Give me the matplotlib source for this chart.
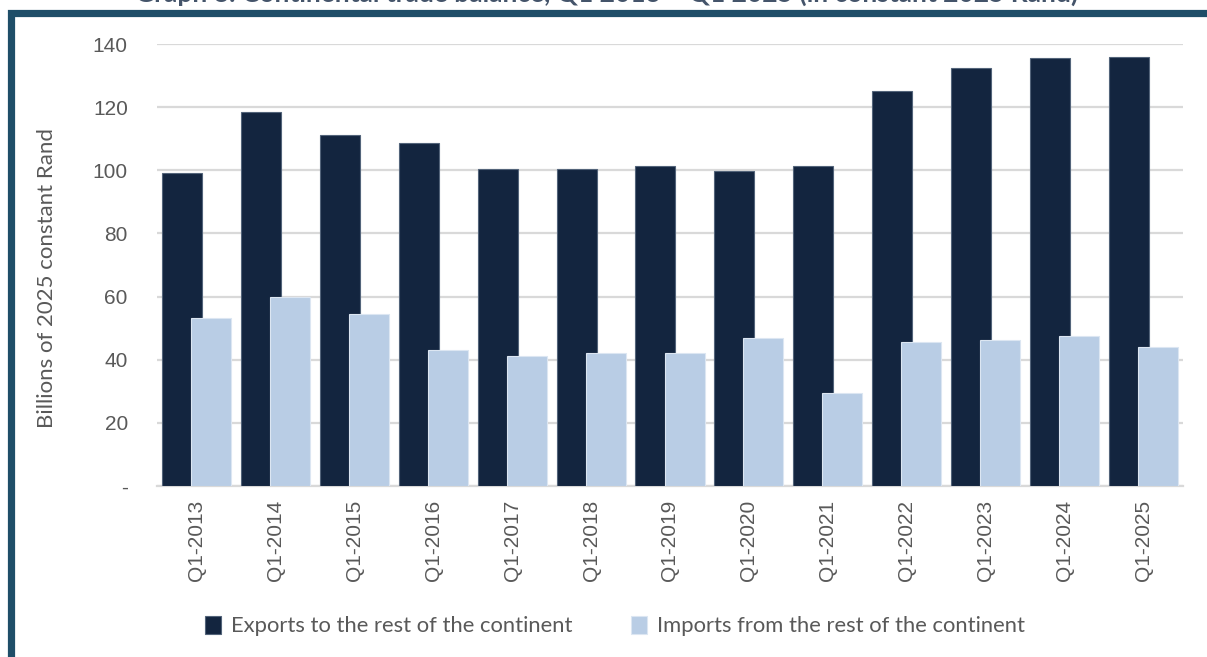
import numpy as np
import matplotlib
matplotlib.use("Agg")
import matplotlib.pyplot as plt
from matplotlib.patches import Rectangle

# data (billions of 2025 constant Rand)
quarters = ["Q1-2013", "Q1-2014", "Q1-2015", "Q1-2016", "Q1-2017", "Q1-2018", "Q1-2019",
            "Q1-2020", "Q1-2021", "Q1-2022", "Q1-2023", "Q1-2024", "Q1-2025"]
exports = [99.2, 118.6, 111.3, 108.5, 100.3, 100.3, 101.5, 99.9, 101.5, 125.0, 132.3, 135.6, 136.0]
imports = [53.3, 59.8, 54.5, 43.1, 41.1, 42.0, 42.0, 46.8, 29.4, 45.6, 46.3, 47.6, 43.9]
y_ticks = [0, 20, 40, 60, 80, 100, 120, 140]
y_tick_labels = ["-", "20", "40", "60", "80", "100", "120", "140"]

title = "Graph 8: Continental trade balance, Q1 2013 \u2013 Q1 2025 (in constant 2025 Rand)"
ylabel = "Billions of 2025 constant Rand"
export_name = "Exports to the rest of the continent"
import_name = "Imports from the rest of the continent"

navy = "#13253F"
light = "#B9CDE5"
grey_text = "#595959"
grid_col = "#D9D9D9"
frame_col = "#1F4E68"

W, H = 1207, 657
fig = plt.figure(figsize=(W / 100, H / 100), dpi=100)
ax = fig.add_axes([157 / W, 1 - 486 / H, (1183 - 157) / W, (486 - 44) / H])

x = np.arange(len(quarters))
bw = 0.507
off = 0.184
ax.bar(x - off, exports, width=bw, color=navy, edgecolor="#53647A", linewidth=0.8,
       label=export_name, zorder=3)
ax.bar(x + off, imports, width=bw, color=light, edgecolor="#DCE6F2", linewidth=0.8,
       label=import_name, zorder=4)

ax.set_xlim(-0.5, len(quarters) - 0.5)
ax.set_ylim(0, 140)
ax.set_yticks(y_ticks)
ax.set_yticklabels(y_tick_labels)
ax.set_xticks(x)
ax.set_xticklabels(quarters, rotation=90)

for lab in ax.get_xticklabels() + ax.get_yticklabels():
    lab.set_fontfamily("Liberation Sans")
    lab.set_fontsize(15)
    lab.set_color(grey_text)
ax.tick_params(axis="both", length=0)
ax.tick_params(axis="y", pad=21)
ax.tick_params(axis="x", pad=10)

ax.yaxis.grid(True, color=grid_col, linewidth=1.6, zorder=0)
ax.set_axisbelow(True)
for side in ["top", "right", "left"]:
    ax.spines[side].set_visible(False)
ax.spines["bottom"].set_color(grid_col)
ax.spines["bottom"].set_linewidth(1.6)

# y label placed by hand, sits a bit below the axes centre in the source
fig.text(47 / W, 1 - 278 / H, ylabel, rotation=90, ha="center", va="center",
         fontfamily="Lato", fontsize=16, color=grey_text)

leg = fig.legend(loc="center", bbox_to_anchor=(615 / W, 1 - 626 / H), ncol=2, frameon=False,
                 prop={"family": "Lato", "size": 15.8}, handlelength=0.7, handleheight=0.9,
                 handletextpad=0.45, columnspacing=2.7)
for t in leg.get_texts():
    t.set_color(grey_text)

# outer frame (cut off at the right and bottom like the source)
fig.patches.append(Rectangle((10.5 / W, -0.2), 1.5, 1.2 - 13 / H, transform=fig.transFigure,
                             fill=False, edgecolor=frame_col, linewidth=5.2, zorder=10))

# title, mostly cut off at the top edge as in the source
fig.text(0.503, 1 - 2 / H, title, ha="center", va="baseline", fontfamily="Lato",
         fontweight="bold", fontsize=19, color="#44546A")

fig.savefig("out.png", dpi=100)
